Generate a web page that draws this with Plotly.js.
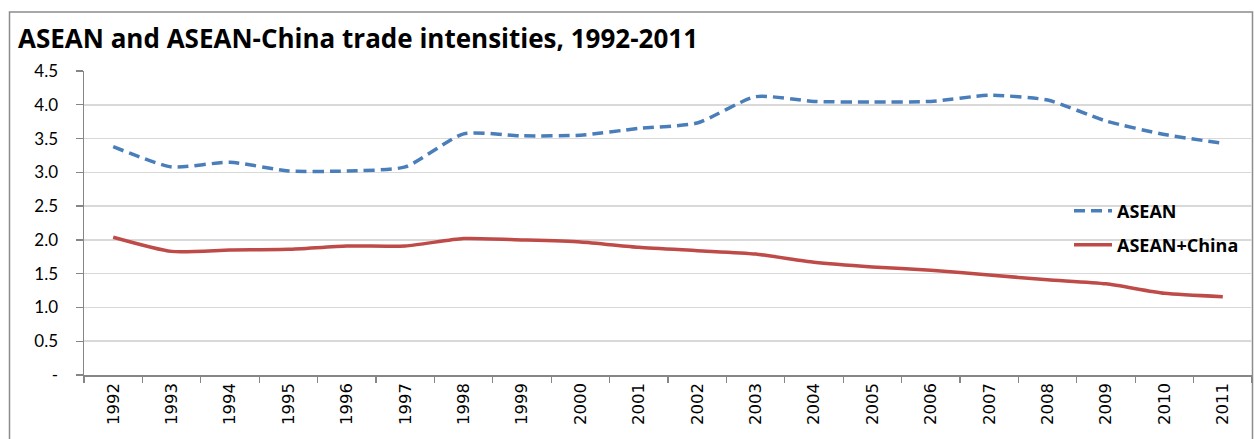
<!DOCTYPE html>
<html>
<head>
<meta charset="utf-8">
<script src="https://cdn.plot.ly/plotly-3.0.1.min.js"></script>
<style>
html,body{margin:0;padding:0;background:#fff;}
#chart{width:1254px;height:439px;}
</style>
</head>
<body>
<div id="chart"></div>
<script>
const years = ['1992','1993','1994','1995','1996','1997','1998','1999','2000','2001','2002','2003','2004','2005','2006','2007','2008','2009','2010','2011'];
const asean = [3.38,3.08,3.15,3.02,3.02,3.08,3.57,3.54,3.55,3.65,3.73,4.12,4.05,4.04,4.05,4.14,4.07,3.76,3.56,3.43];
const aseanChina = [2.04,1.83,1.85,1.86,1.91,1.91,2.02,2.00,1.97,1.89,1.84,1.79,1.67,1.60,1.55,1.48,1.41,1.35,1.21,1.16];
const yTickVals = [0,0.5,1,1.5,2,2.5,3,3.5,4,4.5];
const yTickText = ['-','0.5','1.0','1.5','2.0','2.5','3.0','3.5','4.0','4.5'];
const chartTitle = 'ASEAN and ASEAN-China trade intensities, 1992-2011';

const traces = [
  {x: years, y: asean, name: 'ASEAN', type: 'scatter', mode: 'lines',
   line: {color: '#4A7EBB', width: 3.5, dash: '11px,6px', shape: 'spline', smoothing: 0.6},
   legend: 'legend'},
  {x: years, y: aseanChina, name: 'ASEAN+China', type: 'scatter', mode: 'lines',
   line: {color: '#BE4B48', width: 3.5, shape: 'spline', smoothing: 0.6},
   legend: 'legend2'}
];

const legFont = {family: 'Open Sans, sans-serif', size: 18, color: '#000', weight: 'bold'};
function px(xp){return (xp-84)/1168;}
function py(yp){return (375-yp)/304;}
const layout = {
  width: 1254, height: 439,
  margin: {l: 84, r: 2, t: 71, b: 64},
  paper_bgcolor: '#fff', plot_bgcolor: '#fff',
  title: {text: '<b>' + chartTitle + '</b>', xref: 'container', yref: 'container',
          x: 18/1254, xanchor: 'left', y: 1 - 39/439, yanchor: 'middle',
          font: {family: 'Open Sans, sans-serif', size: 26, color: '#000'}},
  xaxis: {type: 'category', range: [-0.5, 19.5], showgrid: false, showline: true, linecolor: '#868686', linewidth: 1.5,
          ticks: 'outside', tickson: 'boundaries', ticklen: 6, tickcolor: '#868686', tickwidth: 1.3,
          tickangle: -90, tickfont: {family: 'DejaVu Sans, sans-serif', size: 16.5, color: '#000'},
          zeroline: false, fixedrange: true},
  yaxis: {range: [0, 4.5], tickvals: yTickVals, ticktext: yTickText, showgrid: true,
          gridcolor: '#D9D9D9', gridwidth: 1.5, showline: true, linecolor: '#868686', linewidth: 1.5,
          ticks: 'outside', ticklen: 7, tickcolor: '#868686', tickwidth: 1.3, ticklabelstandoff: 14,
          tickfont: {family: 'Lato, sans-serif', size: 17, color: '#000'}, zeroline: false, fixedrange: true},
  showlegend: true,
  legend: {x: px(1069), y: py(211), xanchor: 'left', yanchor: 'middle', font: legFont, bgcolor: 'rgba(0,0,0,0)', itemwidth: 38},
  legend2: {x: px(1069), y: py(245), xanchor: 'left', yanchor: 'middle', font: legFont, bgcolor: 'rgba(0,0,0,0)', itemwidth: 38},
  shapes: [
    {type: 'rect', xref: 'paper', yref: 'paper', x0: px(9.5), x1: px(1252.5),
     y0: py(460), y1: py(12), line: {color: '#8C8C8C', width: 1.5}, fillcolor: 'rgba(0,0,0,0)', layer: 'below'}
  ]
};

Plotly.newPlot('chart', traces, layout, {displayModeBar: false, staticPlot: true});
</script>
</body>
</html>
